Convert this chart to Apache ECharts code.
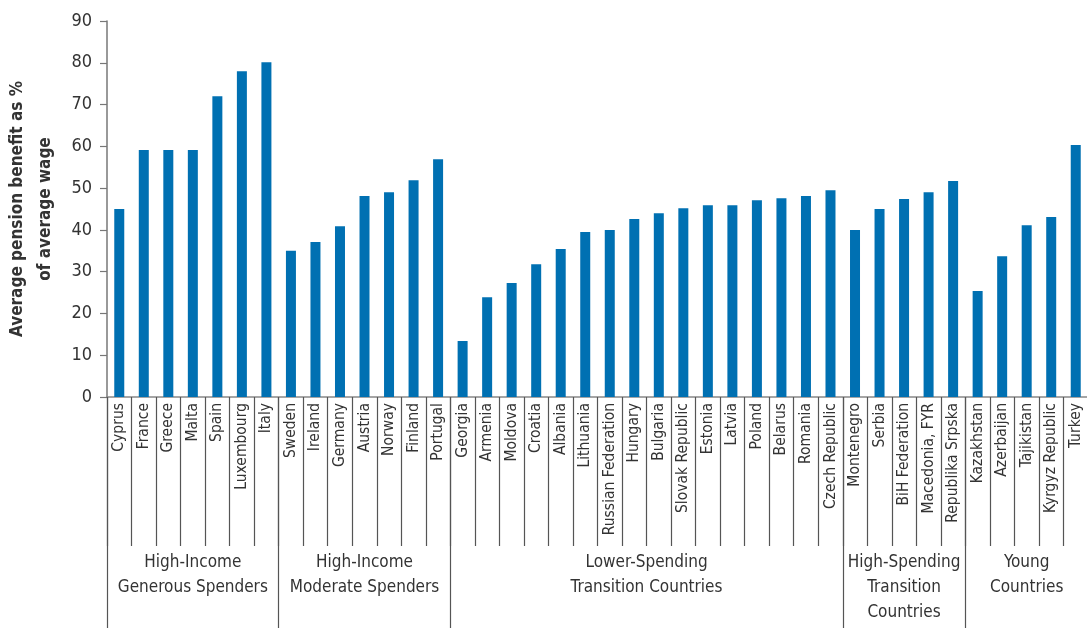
<!DOCTYPE html>
<html>
<head>
<meta charset="utf-8">
<style>
  html, body { margin: 0; padding: 0; background: #ffffff; }
  #chart { width: 1087px; height: 628px; }
</style>
<script src="https://cdn.jsdelivr.net/npm/echarts@6/dist/echarts.min.js"></script>
</head>
<body>
<div id="chart"></div>
<script>
// Countries, in plotting order
const countries = [
  'Cyprus', 'France', 'Greece', 'Malta', 'Spain', 'Luxembourg', 'Italy',
  'Sweden', 'Ireland', 'Germany', 'Austria', 'Norway', 'Finland', 'Portugal',
  'Georgia', 'Armenia', 'Moldova', 'Croatia', 'Albania', 'Lithuania', 'Russian Federation',
  'Hungary', 'Bulgaria', 'Slovak Republic', 'Estonia', 'Latvia', 'Poland', 'Belarus',
  'Romania', 'Czech Republic',
  'Montenegro', 'Serbia', 'BiH Federation', 'Macedonia, FYR', 'Republika Srpska',
  'Kazakhstan', 'Azerbaijan', 'Tajikistan', 'Kyrgyz Republic', 'Turkey'
];

// Average pension benefit as % of average wage
const pensionShare = [
  45, 59.1, 59.1, 59.1, 72, 78, 80.1,
  35, 37.1, 40.9, 48.1, 49, 51.9, 56.9,
  13.4, 23.9, 27.3, 31.8, 35.4, 39.5, 40,
  42.6, 44, 45.2, 45.9, 45.9, 47.1, 47.6,
  48.1, 49.5,
  40, 45, 47.4, 49, 51.7,
  25.4, 33.7, 41.1, 43.1, 60.3
];

// Country groups and how many countries each holds
const groupNames = [
  'High-Income\nGenerous Spenders',
  'High-Income\nModerate Spenders',
  'Lower-Spending\nTransition Countries',
  'High-Spending\nTransition\nCountries',
  'Young\nCountries'
];
const groupSizes = [7, 7, 16, 5, 5];

// Value axis ticks (in %)
const yTicks = { min: 0, max: 90, step: 10 };

// Derived: first index of each group and centre of each group in band units
const groupStarts = [];
const groupCentres = [];
let acc = 0;
groupSizes.forEach(function (n) {
  groupStarts.push(acc);
  groupCentres.push(acc + n / 2);
  acc += n;
});

const FONT = '"DejaVu Sans Condensed", "Liberation Sans Narrow", sans-serif';
const TEXT = '#333333';
const LINE = '#555555';

const chart = echarts.init(document.getElementById('chart'), null, { renderer: 'canvas' });

chart.setOption({
  animation: false,
  backgroundColor: '#ffffff',
  grid: {
    left: 107, right: -1, top: 21, bottom: 231,
    containLabel: false, outerBoundsMode: 'none'
  },
  xAxis: [
    {
      // country labels with short dividers
      type: 'category',
      data: countries,
      position: 'bottom',
      boundaryGap: true,
      axisLine: { show: true, onZero: false, lineStyle: { color: '#888888', width: 1.5 } },
      axisTick: { show: true, interval: 0, length: 149, lineStyle: { color: LINE, width: 1.2 } },
      axisLabel: {
        interval: 0, rotate: 90, margin: 6,
        fontFamily: FONT, fontSize: 15.5, color: TEXT
      },
      splitLine: { show: false }
    },
    {
      // long dividers between country groups
      type: 'category',
      data: countries,
      position: 'bottom',
      boundaryGap: true,
      axisLine: { show: false, onZero: false },
      axisTick: {
        show: true, length: 231,
        interval: function (index) { return groupStarts.indexOf(index) >= 0; },
        lineStyle: { color: LINE, width: 1.2 }
      },
      axisLabel: { show: false },
      splitLine: { show: false }
    },
    {
      // group captions, centred under each group
      type: 'value',
      min: 0,
      max: countries.length,
      interval: 0.5,
      position: 'bottom',
      axisLine: { show: false, onZero: false },
      axisTick: { show: false },
      splitLine: { show: false },
      axisLabel: {
        show: true, margin: 153,
        fontFamily: FONT, fontSize: 17, lineHeight: 25, color: TEXT, align: 'center',
        showMinLabel: true, showMaxLabel: true,
        formatter: function (v) {
          const i = groupCentres.findIndex(function (c) { return Math.abs(c - v) < 1e-6; });
          return i >= 0 ? groupNames[i] : '';
        }
      }
    }
  ],
  yAxis: {
    type: 'value',
    min: yTicks.min,
    max: yTicks.max,
    interval: yTicks.step,
    name: 'Average pension benefit as %\nof average wage',
    nameLocation: 'middle',
    nameRotate: 90,
    nameGap: 47,
    nameTextStyle: {
      fontFamily: FONT, fontSize: 17, fontWeight: 'bold', color: TEXT, lineHeight: 28
    },
    axisLine: { show: true, lineStyle: { color: '#777777', width: 1.5 } },
    axisTick: { show: true, length: 7, lineStyle: { color: '#777777', width: 1.2 } },
    axisLabel: { fontFamily: FONT, fontSize: 18, color: TEXT, margin: 15 },
    splitLine: { show: false }
  },
  series: [
    {
      type: 'bar',
      xAxisIndex: 0,
      yAxisIndex: 0,
      data: pensionShare,
      barWidth: 10,
      itemStyle: { color: '#0070b2' }
    }
  ]
});
</script>
</body>
</html>
